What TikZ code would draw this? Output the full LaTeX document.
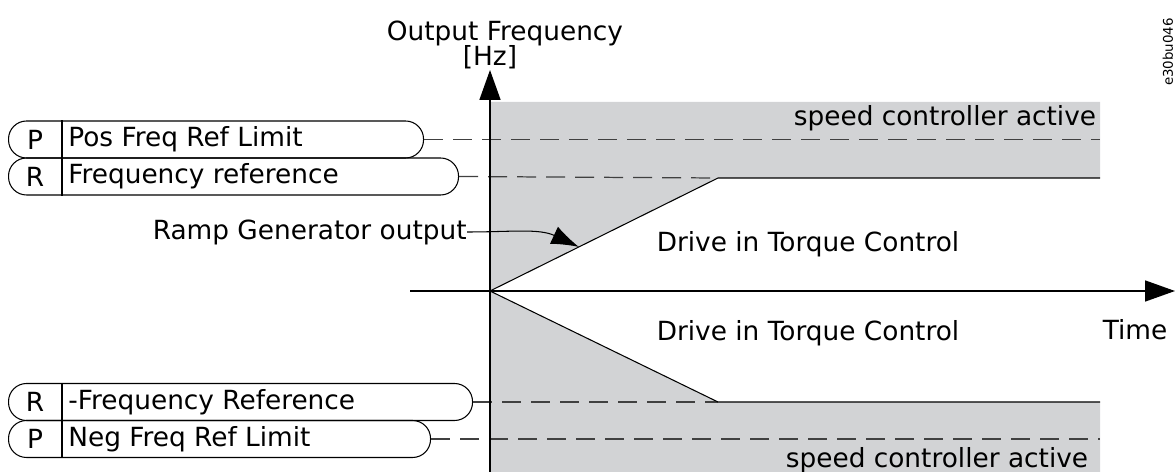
\documentclass[tikz,border=0pt]{standalone}
\usepackage{fontspec}
\setmainfont{DejaVu Sans}
\usetikzlibrary{arrows.meta,calc}
\definecolor{zonegray}{RGB}{210,211,213}

\begin{document}
\begin{tikzpicture}[
    font=\fontsize{15}{18}\selectfont,
    pill/.style={draw, line width=0.6pt, rounded corners=0.36cm, minimum height=0.74cm, inner sep=0, anchor=west},
    pilltext/.style={anchor=west, inner sep=0},
    limit/.style={line width=0.7pt, dash pattern=on 0.38cm off 0.2cm, black!75},
    axis/.style={line width=0.9pt, -{Triangle[length=0.6cm,width=0.42cm]}},
    ramp/.style={line width=0.6pt}
  ]
    \useasboundingbox (0,0) rectangle (23.52,9.44);
    % Eixos e pontos da rampa
    \coordinate (O) at (9.8,3.62);
    \coordinate (ybot) at (9.8,0);
    \coordinate (ytop) at (9.8,8.04);
    \coordinate (xleft) at (8.2,3.62);
    \coordinate (xright) at (23.5,3.62);
    \coordinate (rtop) at (14.36,5.88);
    \coordinate (rbot) at (14.36,1.4);
    \coordinate (refend) at (22,5.88);
    \coordinate (nrefend) at (22,1.4);
    \coordinate (posend) at (22,6.65);
    \coordinate (negend) at (22,0.66);
    \coordinate (ramptip) at ($(O)!0.39!(rtop)$);
    % Zonas do controlador de velocidade
    \fill[zonegray] (O) -- (rtop) -- (refend) -- (22,7.4) -- (9.8,7.4) -- cycle;
    \fill[zonegray] (O) -- (rbot) -- (nrefend) -- (22,0) -- (ybot) -- cycle;
    % Pos Freq Ref Limit
    \node[pill, minimum width=8.3cm] (pos) at (0.16,6.65) {};
    \draw[line width=0.6pt] ($(pos.north west)+(1.08,0)$) -- ($(pos.south west)+(1.08,0)$);
    \node (posP) at ($(pos.west)+(0.54,0)$) {P};
    \node[pilltext] (posT) at ($(pos.west)+(1.2,0)$) {Pos Freq Ref Limit};
    \draw[limit] (pos.east) -- (posend);
    % Frequency reference
    \node[pill, minimum width=9.0cm] (ref) at (0.16,5.91) {};
    \draw[line width=0.6pt] ($(ref.north west)+(1.08,0)$) -- ($(ref.south west)+(1.08,0)$);
    \node (refR) at ($(ref.west)+(0.54,0)$) {R};
    \node[pilltext] (refT) at ($(ref.west)+(1.2,0)$) {Frequency reference};
    \draw[limit] (ref.east) -- (rtop);
    % -Frequency Reference
    \node[pill, minimum width=9.28cm] (nref) at (0.16,1.4) {};
    \draw[line width=0.6pt] ($(nref.north west)+(1.08,0)$) -- ($(nref.south west)+(1.08,0)$);
    \node (nrefR) at ($(nref.west)+(0.54,0)$) {R};
    \node[pilltext] (nrefT) at ($(nref.west)+(1.2,0)$) {-Frequency Reference};
    \draw[limit] (nref.east) -- (rbot);
    % Neg Freq Ref Limit
    \node[pill, minimum width=8.44cm] (neg) at (0.16,0.66) {};
    \draw[line width=0.6pt] ($(neg.north west)+(1.08,0)$) -- ($(neg.south west)+(1.08,0)$);
    \node (negP) at ($(neg.west)+(0.54,0)$) {P};
    \node[pilltext] (negT) at ($(neg.west)+(1.2,0)$) {Neg Freq Ref Limit};
    \draw[limit] (neg.east) -- (negend);
    % Eixos
    \draw[axis] (ybot) -- (ytop);
    \draw[axis] (xleft) -- (xright);
    \node (yname) at (10.1,8.78) {Output Frequency};
    \node (yunit) at (9.8,8.3) {[Hz]};
    \node (xname) at (22.7,2.84) {Time};
    % Rampa
    \draw[ramp] (O) -- (rtop) -- (refend);
    \draw[ramp] (O) -- (rbot) -- (nrefend);
    \node[anchor=east, inner sep=0] (rampl) at (9.34,4.8) {Ramp Generator output};
    \draw[ramp, -{Latex[length=0.55cm,width=0.38cm]}] (rampl.east) to[out=0, in=155] (ramptip);
    % Textos das zonas
    \node (drive1) at (16.16,4.56) {Drive in Torque Control};
    \node (drive2) at (16.16,2.78) {Drive in Torque Control};
    \node (speed1) at (18.9,7.08) {speed controller active};
    \node (speed2) at (18.74,0.24) {speed controller active};
    \node[rotate=90, inner sep=0, font=\fontsize{7.6}{9}\selectfont] (code) at (23.36,8.4) {e30bu046};
\end{tikzpicture}
\end{document}
